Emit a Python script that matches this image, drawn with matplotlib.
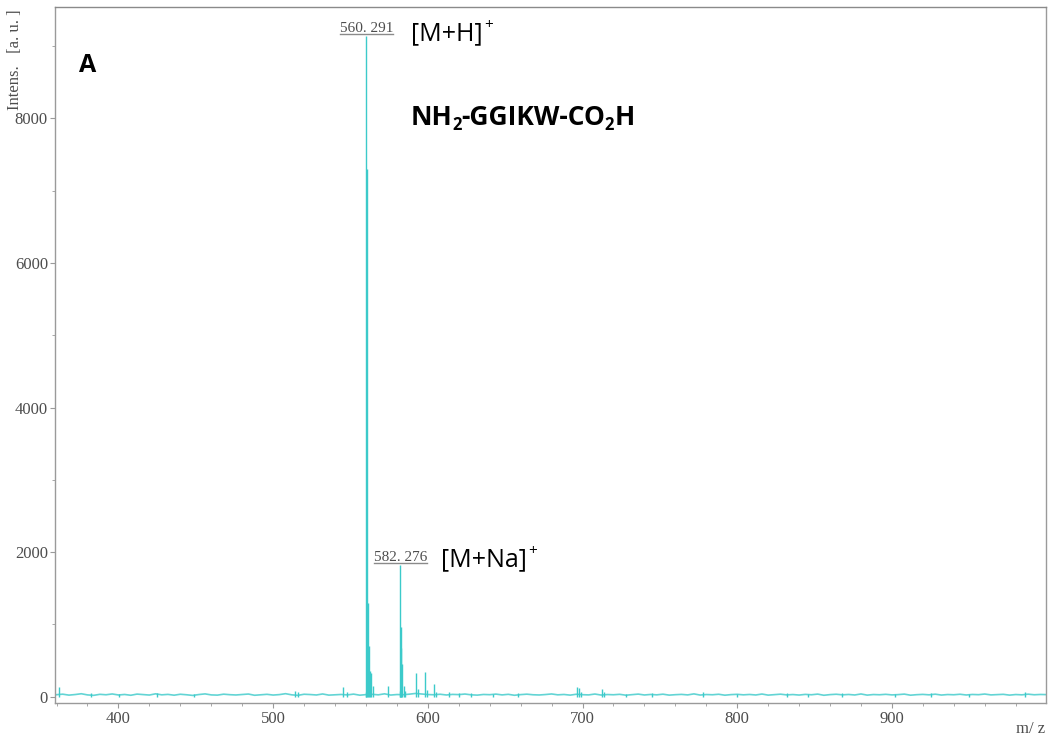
import numpy as np
import matplotlib
matplotlib.use("Agg")
import matplotlib.pyplot as plt
from matplotlib.lines import Line2D
from matplotlib.ticker import MultipleLocator
from matplotlib.transforms import IdentityTransform

# ---- spectrum data -------------------------------------------------------
# baseline noise level, sampled every 4 m/z from 360 to 1000
baseline_int = [
    28, 35, 22, 30, 41, 25, 19, 33, 27, 38,
    24, 31, 20, 36, 29, 23, 40, 26, 32, 21,
    34, 27, 18, 30, 39, 25, 22, 35, 28, 24,
    31, 37, 20, 27, 33, 23, 29, 42, 26, 19,
    34, 30, 24, 38, 22, 27, 31, 25, 36, 21,
    29, 33, 26, 40, 23, 30, 28, 35, 45, 38,
    30, 27, 34, 24, 32, 29, 37, 26, 22, 31,
    28, 36, 25, 33, 20, 29, 35, 27, 24, 30,
    38, 26, 31, 22, 34, 28, 25, 37, 23, 30,
    27, 33, 21, 29, 36, 24, 31, 26, 35, 22,
    28, 32, 25, 39, 23, 30, 27, 34, 21, 29,
    33, 26, 31, 24, 37, 22, 28, 35, 25, 30,
    23, 32, 27, 36, 20, 29, 34, 26, 31, 24,
    38, 22, 30, 27, 33, 25, 29, 36, 21, 28,
    32, 26, 35, 23, 30, 27, 34, 24, 31, 28,
    37, 25, 29, 33, 22, 30, 26, 35, 27, 31,
    29,
]
baseline_start, baseline_stop = 360, 1000

# centroided peaks (m/z, intensity)
peak_mz = [
    361.9, 382.0, 400.5, 425.0, 449.0, 514.3, 516.0, 545.3, 548.0,
    559.8, 560.291, 560.6, 561.3, 561.9, 562.3, 563.3, 564.3,
    574.4, 582.0, 582.276, 582.5, 582.9, 583.3, 584.3, 585.0,
    592.5, 593.5, 598.3, 599.3, 604.0, 605.0, 614.0, 620.0, 628.0,
    642.0, 658.0, 696.5, 697.8, 699.0, 712.7, 714.0, 728.0, 745.0,
    778.0, 800.0, 832.0, 846.0, 868.0, 902.0, 925.0, 950.0, 985.9,
]
peak_int = [
    140, 50, 40, 45, 40, 80, 60, 140, 60,
    60, 9140, 7300, 1300, 700, 360, 330, 150,
    150, 80, 1821, 960, 670, 450, 150, 80,
    330, 100, 335, 90, 180, 70, 60, 50, 45,
    40, 55, 140, 120, 70, 100, 70, 40, 45,
    60, 40, 50, 40, 45, 40, 45, 40, 70,
]

# annotated peaks
label_mz = [560.291, 582.276]
label_int = [9140, 1821]
label_text = ["560. 291", "582. 276"]
ion_text = ["[M+H]", "[M+Na]"]
ion_offset = [(32, -3), (29, -1)]  # points, relative to the peak top

x_limits = (359.0, 999.6)
y_limits = (-87, 9540)

# ---- figure --------------------------------------------------------------
W, H = 1051, 742
fig = plt.figure(figsize=(W / 100, H / 100), dpi=100)
ax = fig.add_axes([55 / W, 1 - 703 / H, (1046 - 55) / W, (703 - 7) / H])

trace_color = "#3ccaca"
baseline_mz = np.linspace(baseline_start, baseline_stop, len(baseline_int))
ax.plot(baseline_mz, baseline_int, color=trace_color, lw=1.2, alpha=0.8)
ax.vlines(peak_mz, 0, peak_int, color=trace_color, lw=1.0)

ax.set_xlim(*x_limits)
ax.set_ylim(*y_limits)

ax.xaxis.set_major_locator(MultipleLocator(100))
ax.xaxis.set_minor_locator(MultipleLocator(20))
ax.yaxis.set_major_locator(MultipleLocator(2000))
ax.yaxis.set_minor_locator(MultipleLocator(1000))

serif = ["Liberation Serif", "DejaVu Serif"]
sans = ["Open Sans", "DejaVu Sans"]
gray_txt = "#4d4d4d"
spine_col = "#9a9a9a"

for s in ax.spines.values():
    s.set_color(spine_col)
    s.set_linewidth(1.0)
ax.spines["top"].set_color("#8a8a8a")

ax.tick_params(axis="both", which="both", direction="out", color=spine_col,
               labelcolor=gray_txt, labelsize=12)
ax.tick_params(axis="x", which="major", length=3.6, pad=2.5)
ax.tick_params(axis="x", which="minor", length=2.4)
ax.tick_params(axis="y", which="major", length=3.6, pad=1.5)
ax.tick_params(axis="y", which="minor", length=2.0)
for lab in ax.get_xticklabels() + ax.get_yticklabels():
    lab.set_family(serif)

# axis titles
fig.text(15.5 / W, 1 - 60 / H, "Intens.   [a. u. ]", rotation=90, ha="center",
         va="center", fontsize=12, color=gray_txt, family=serif)
fig.text(1045 / W, 1 - 729 / H, "m/ z", ha="right", va="center",
         fontsize=12, color=gray_txt, family=serif)

# panel letter and peptide sequence
fig.text(88 / W, 1 - 66 / H, "A", ha="center", va="center", fontsize=18,
         fontweight="bold", family=sans, color="black")

seq_parts = [("NH", False), ("2", True), ("-GGIKW-CO", False), ("2", True), ("H", False)]
main_size, sub_size = 19, 12
prev_main = fig.text(411 / W, 1 - 131 / H, seq_parts[0][0], fontsize=main_size,
                     fontweight="bold", family=sans, va="bottom", ha="left")
prev = prev_main
for txt, is_sub in seq_parts[1:]:
    if is_sub:
        prev = ax.annotate(txt, xy=(1, 0), xycoords=(prev, prev_main),
                           xytext=(-0.5, -2.2), textcoords="offset points",
                           fontsize=sub_size, fontweight="bold", family=sans,
                           ha="left", va="bottom", annotation_clip=False)
    else:
        prev = ax.annotate(txt, xy=(1, 0), xycoords=(prev, prev_main),
                           xytext=(0.2, 0), textcoords="offset points",
                           fontsize=main_size, fontweight="bold", family=sans,
                           ha="left", va="bottom", annotation_clip=False)
        prev_main = prev

# peak labels and ion assignments
label_artists = []
for mz, inten, txt, ion, off in zip(label_mz, label_int, label_text, ion_text, ion_offset):
    t = ax.annotate(txt, xy=(mz, inten), xytext=(0, 0.5), textcoords="offset points",
                    ha="center", va="bottom", fontsize=11, color=gray_txt,
                    family=serif, annotation_clip=False)
    label_artists.append(t)
    it = ax.annotate(ion, xy=(mz, inten), xytext=off, textcoords="offset points",
                     ha="left", va="baseline", fontsize=18, family=sans,
                     color="black", annotation_clip=False)
    ax.annotate("+", xy=(1, 1), xycoords=it, xytext=(1, -3),
                textcoords="offset points", ha="left", va="center",
                fontsize=11, family=sans, color="black", annotation_clip=False)

# underline the peak labels
fig.canvas.draw()
renderer = fig.canvas.get_renderer()
for t in label_artists:
    bb = t.get_window_extent(renderer)
    fig.add_artist(Line2D([bb.x0, bb.x1], [bb.y0 + 1, bb.y0 + 1], color="#8a8a8a",
                          lw=1.0, transform=IdentityTransform()))

fig.savefig("out.png", dpi=100)
